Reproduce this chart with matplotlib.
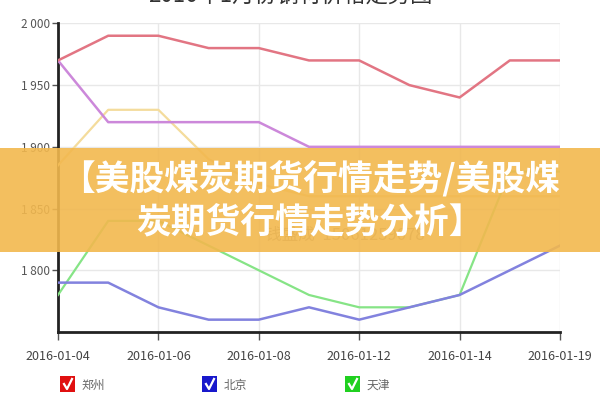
import matplotlib
matplotlib.use('Agg')
import matplotlib.pyplot as plt
from matplotlib.patches import Rectangle
from matplotlib.lines import Line2D
from matplotlib.ticker import FuncFormatter

plt.rcParams['font.family'] = ['Noto Sans CJK SC', 'DejaVu Sans']

dates = ['2016-01-04', '2016-01-05', '2016-01-06', '2016-01-07', '2016-01-08',
         '2016-01-11', '2016-01-12', '2016-01-13', '2016-01-14', '2016-01-18',
         '2016-01-19']
tick_labels = ['2016-01-04', '2016-01-06', '2016-01-08', '2016-01-12',
               '2016-01-14', '2016-01-19']
zhengzhou = [1970, 1990, 1990, 1980, 1980, 1970, 1970, 1950, 1940, 1970, 1970]
purple_series = [1970, 1920, 1920, 1920, 1920, 1900, 1900, 1900, 1900, 1900, 1900]
yellow_series = [1885, 1930, 1930, 1890, 1870, 1860, 1860, 1860, 1860, 1860, 1860]
tianjin = [1780, 1840, 1840, 1820, 1800, 1780, 1770, 1770, 1780, 1880, 1880]
beijing = [1790, 1790, 1770, 1760, 1760, 1770, 1760, 1770, 1780, 1800, 1820]
legend_names = ['郑州', '北京', '天津']
legend_colors = ['#e01010', '#1818cc', '#20d020']

title = '2016年1月份钢材价格走势图'
watermark = '钱盛成  15061259078'
banner_lines = ['【美股煤炭期货行情走势/美股煤', '炭期货行情走势分析】']

W, H = 600, 400
fig = plt.figure(figsize=(6, 4), dpi=100)
fig.patch.set_facecolor('white')

ax = fig.add_axes([58 / W, 1 - 332 / H, 502 / W, (332 - 23.4) / H])
x = list(range(len(dates)))

ax.plot(x, yellow_series, color='#f4dc9c', lw=1.6, zorder=3)
ax.plot(x, tianjin, color='#86e486', lw=1.6, zorder=3)
ax.plot(x, beijing, color='#8282de', lw=1.8, zorder=3)
ax.plot(x, purple_series, color='#cc88da', lw=1.8, zorder=3)
ax.plot(x, zhengzhou, color='#e27583', lw=1.8, zorder=3)

ax.set_xlim(0, 10)
ax.set_ylim(1750, 2000)
ax.set_yticks([1800, 1850, 1900, 1950, 2000])
ax.yaxis.set_major_formatter(FuncFormatter(lambda v, p: '{:,.0f}'.format(v).replace(',', ' ')))
ax.set_xticks([0, 2, 4, 6, 8, 10])
ax.set_xticklabels(tick_labels)
ax.grid(True, color='#e8e8e8', lw=1.0, zorder=0)
for s in ['top', 'right']:
    ax.spines[s].set_visible(False)
for s in ['left', 'bottom']:
    ax.spines[s].set_linewidth(2.0)
    ax.spines[s].set_color('#222222')
ax.tick_params(axis='y', length=4, width=1, color='#555555', labelsize=8.5,
               labelcolor='#555555', pad=2)
ax.tick_params(axis='x', length=6, width=1, color='#555555', labelsize=9,
               labelcolor='#444444', pad=7)

# watermark in the plot
fig.text(345 / W, 1 - 235 / H, watermark, fontsize=12, color='#9a9a9a',
         ha='center', va='center', zorder=2)

# title, cut by the top edge
fig.text(290 / W, 1 + 4 / H, title, fontsize=16, color='#333333',
         ha='center', va='center')

# legend
for i, (name, col) in enumerate(zip(legend_names, legend_colors)):
    x0 = [60, 202, 345][i]
    fig.patches.append(Rectangle((x0 / W, 1 - 392 / H), 15 / W, 16 / H,
                                 transform=fig.transFigure, facecolor=col,
                                 edgecolor='none'))
    fig.lines.append(Line2D([(x0 + 4) / W, (x0 + 7) / W, (x0 + 12) / W],
                            [1 - 384 / H, 1 - 389 / H, 1 - 379 / H],
                            transform=fig.transFigure, color='white', lw=1.6))
    fig.text((x0 + 22) / W, 1 - 385 / H, name, fontsize=8.5, color='#666666',
             ha='left', va='center')

# banner overlay
fig.patches.append(Rectangle((0, 1 - 252 / H), 1, 104 / H, transform=fig.transFigure,
                             facecolor='#f2b84e', edgecolor='none', alpha=0.9,
                             zorder=10))
fig.text(310 / W, 1 - 178 / H, banner_lines[0], fontsize=25, color='white',
         fontweight='bold', ha='center', va='center', zorder=11)
fig.text(310 / W, 1 - 222 / H, banner_lines[1], fontsize=25, color='white',
         fontweight='bold', ha='center', va='center', zorder=11)

fig.savefig('out.png', dpi=100)
